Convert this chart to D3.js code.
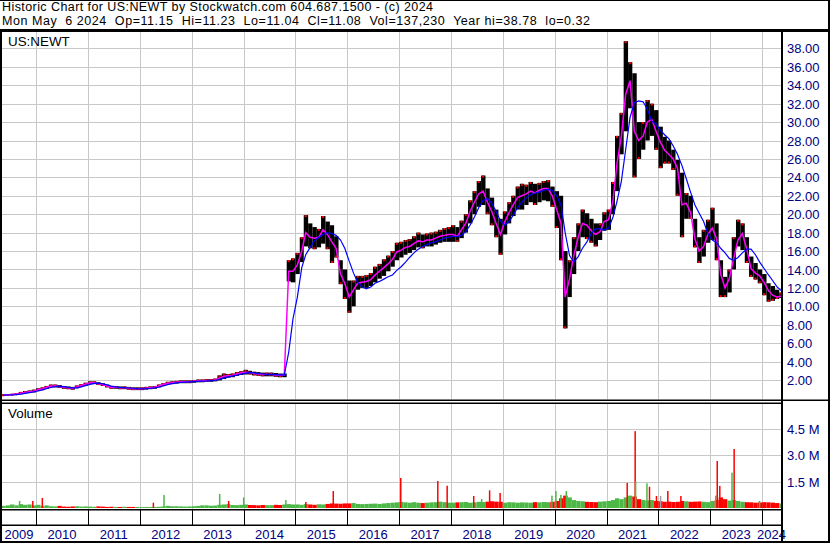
<!DOCTYPE html>
<html>
<head>
<meta charset="utf-8">
<script src="https://cdn.jsdelivr.net/npm/d3@7"></script>
<style>
body { margin: 0; background: #fff; }
svg { display: block; font-family: "Liberation Sans", Arial, sans-serif; }
text { white-space: pre; }
</style>
</head>
<body>
<script>
// monthly bars, first month is May 2009, last is May 2024
const hi = [
  0.45, 0.48, 0.5, 0.56, 0.7, 0.8, 0.86, 0.95,
  1.1, 1.2, 1.35, 1.5, 1.5, 1.45, 1.35, 1.3, 1.25, 1.4, 1.55, 1.7,
  1.85, 1.85, 1.75, 1.65, 1.5, 1.35, 1.35, 1.3, 1.3, 1.25, 1.2, 1.2,
  1.2, 1.25, 1.3, 1.35, 1.5, 1.65, 1.8, 1.85, 1.9, 1.95, 1.95, 1.95,
  2.0, 2.05, 2.05, 2.1, 2.1, 2.15, 2.5, 2.7, 2.65, 2.7, 2.85, 2.95,
  3.1, 3.0, 2.9, 2.85, 2.8, 2.8, 2.8, 2.75, 2.7, 2.7, 15, 15.2,
  15.8, 17.5, 19.9, 19, 18.6, 18.4, 19.8, 19.2, 18.8, 17.6, 15, 14,
  12.8, 12.8, 13.3, 13.3, 13.4, 13.6, 14.3, 14.6, 15.1, 15.5, 16, 16.9,
  17, 17.2, 17.3, 17.6, 18, 17.8, 17.9, 18, 18.1, 18.3, 18.5, 18.6,
  18.8, 18.6, 19.3, 20, 21.5, 22.5, 23.6, 24.2, 22.8, 21.8, 20.5, 19.5,
  20.3, 21.3, 22, 23, 23.3, 23.2, 23.5, 23.3, 23.4, 23.6, 23.7, 23,
  22.5, 22, 16, 15, 17.5, 19, 20.5, 20.1, 19.5, 19, 19, 20.2,
  20.5, 23.5, 28.5, 31, 38.78, 36.5, 35.3, 30, 30, 32.4, 32, 31.3,
  29.5, 28.4, 28, 27, 25.9, 24.5, 22.3, 22, 19.5, 17.5, 18.3, 19.4,
  20.7, 19, 15, 13.2, 14, 17.5, 19.4, 19, 17.5, 15.4, 14.7, 14,
  13.5, 12.5, 12.2, 11.8, 11.5
]
const lo = [
  0.32, 0.33, 0.35, 0.38, 0.45, 0.55, 0.6, 0.65,
  0.8, 0.9, 1.05, 1.2, 1.2, 1.15, 1.05, 1.0, 0.95, 1.1, 1.25, 1.4,
  1.55, 1.55, 1.45, 1.35, 1.2, 1.05, 1.05, 1.0, 1.0, 0.95, 0.9, 0.9,
  0.9, 0.95, 1.0, 1.05, 1.2, 1.35, 1.5, 1.55, 1.6, 1.65, 1.65, 1.65,
  1.7, 1.75, 1.75, 1.8, 1.8, 1.85, 1.95, 2.1, 2.25, 2.3, 2.45, 2.55,
  2.6, 2.6, 2.5, 2.45, 2.4, 2.4, 2.4, 2.35, 2.3, 2.3, 12.7, 12.6,
  13.5, 14.8, 16.5, 16.3, 16.2, 16.4, 16.8, 16.2, 14.7, 15.3, 12.4, 10.8,
  9.3, 10, 11.8, 12, 12, 12.2, 12.6, 13, 13.3, 13.8, 14.3, 15,
  15.3, 15.6, 15.8, 16.1, 16.4, 16.3, 16.5, 16.5, 16.7, 16.9, 17, 17,
  17, 17, 17.4, 18, 19, 20, 20.8, 21, 20, 18.8, 17.5, 15.6,
  17.8, 19, 19.8, 20.5, 20.5, 21, 21.3, 21, 21.3, 21.5, 21.4, 20.8,
  18.5, 15, 7.6, 11, 13.5, 16, 17.5, 17.3, 16.9, 16.5, 17.2, 18.2,
  18.3, 20, 22.5, 26.5, 29, 31.5, 24, 26, 27, 28, 28.5, 27,
  25, 25.5, 25.5, 24.8, 22, 17.5, 19.5, 19.5, 16.4, 14.7, 15.4, 16.9,
  17.2, 15, 11, 11, 11.5, 14, 16.5, 16.1, 14.7, 13.2, 12.9, 12.5,
  11.2, 10.5, 10.6, 10.8, 10.9
]
// magenta = short average, blue = long average
const fast = [
  0.38, 0.4, 0.42, 0.47, 0.55, 0.65, 0.72, 0.78,
  0.95, 1.05, 1.2, 1.35, 1.35, 1.3, 1.2, 1.15, 1.1, 1.25, 1.4, 1.55,
  1.7, 1.7, 1.6, 1.5, 1.35, 1.2, 1.2, 1.15, 1.15, 1.1, 1.05, 1.05,
  1.05, 1.1, 1.15, 1.2, 1.35, 1.5, 1.65, 1.7, 1.75, 1.8, 1.8, 1.8,
  1.85, 1.9, 1.9, 1.95, 1.95, 2.0, 2.2, 2.4, 2.45, 2.5, 2.65, 2.75,
  2.85, 2.8, 2.7, 2.65, 2.6, 2.6, 2.6, 2.55, 2.5, 2.5, 13.8, 13.8,
  14.5, 16, 18, 17.5, 17.4, 17.5, 18.3, 17.8, 17, 16.3, 13.5, 12.5,
  11, 11.8, 12.5, 12.6, 12.7, 12.9, 13.4, 13.8, 14.2, 14.6, 15.1, 15.9,
  16.1, 16.4, 16.5, 16.8, 17.1, 17, 17.2, 17.2, 17.4, 17.6, 17.7, 17.8,
  17.8, 17.6, 18.3, 19, 20.3, 21.3, 22.2, 22.5, 21.3, 20.3, 19, 17.8,
  19.2, 20.2, 21, 21.8, 22, 22.2, 22.5, 22.3, 22.6, 22.8, 22.8, 22,
  20.5, 19, 11, 13, 15.5, 17.5, 19, 18.8, 18.2, 17.8, 18.1, 19.2,
  19.4, 21.5, 25.5, 28.5, 33, 34.5, 29, 28, 28.5, 30, 30.3, 29,
  27.8, 26.9, 26.5, 26, 25, 21, 21.2, 20.2, 17.3, 16, 16.5, 17.8,
  18.5, 17.3, 13.5, 12, 13, 15.2, 17.2, 17.9, 16.2, 14.1, 13.6, 13.3,
  12.6, 11.7, 11.2, 11, 11.1
]
const slow = [
  0.36, 0.37, 0.39, 0.42, 0.47, 0.55, 0.63, 0.7,
  0.8, 0.92, 1.05, 1.18, 1.27, 1.3, 1.27, 1.2, 1.15, 1.15, 1.25, 1.38,
  1.52, 1.63, 1.65, 1.58, 1.47, 1.33, 1.25, 1.2, 1.17, 1.13, 1.1, 1.07,
  1.05, 1.07, 1.1, 1.15, 1.22, 1.35, 1.5, 1.6, 1.68, 1.73, 1.77, 1.8,
  1.82, 1.85, 1.88, 1.9, 1.93, 1.96, 2.05, 2.2, 2.33, 2.42, 2.52, 2.63,
  2.75, 2.8, 2.77, 2.7, 2.65, 2.6, 2.6, 2.58, 2.55, 2.52, 5.0, 8.6,
  11, 14.2, 15.6, 16.4, 17.1, 17.5, 17.8, 18, 17.9, 17.7, 17.2, 16.3,
  14.9, 13.6, 12.6, 12.1, 11.9, 12.1, 12.5, 12.7, 12.95, 13.2, 13.4, 13.9,
  14.3, 14.8, 15.3, 15.8, 16.2, 16.5, 16.7, 16.9, 17, 17.2, 17.4, 17.5,
  17.6, 17.6, 17.7, 18.1, 18.8, 19.7, 20.7, 21.5, 21.7, 21.2, 20.3, 19.3,
  18.8, 19.2, 19.9, 20.7, 21.3, 21.8, 22.1, 22.3, 22.4, 22.6, 22.7, 22.6,
  22, 21, 18, 15.5, 14.8, 15.4, 16.3, 17, 17.9, 18.4, 18.4, 18.3,
  18.5, 19.7, 21.4, 23.6, 27, 30.5, 32.1, 32.3, 32.2, 31.4, 30.1, 29.8,
  29.1, 28.6, 28.2, 27.4, 26.5, 25.3, 23.9, 22.4, 21, 20.1, 19.2, 17.9,
  17.2, 16.9, 16.3, 15.8, 15.2, 15, 15.3, 15.8, 16.2, 16.2, 15.6, 14.8,
  14.1, 13.4, 12.8, 12.1, 11.7
]
// typical daily volume per month, thousands of shares
const baseVol = [
  120, 150, 200, 150, 220, 180, 200, 150,
  180, 120, 150, 100, 90, 120, 80, 70, 90, 100, 80, 90,
  80, 70, 90, 80, 60, 70, 60, 60, 70, 60, 60, 60,
  50, 60, 60, 60, 70, 90, 120, 100, 100, 90, 80, 90,
  100, 120, 150, 150, 130, 140, 180, 200, 220, 170, 160, 180,
  200, 170, 160, 150, 170, 160, 160, 180, 170, 200, 220, 200,
  200, 180, 220, 200, 180, 210, 200, 230, 260, 250, 240, 260,
  260, 280, 230, 220, 230, 240, 250, 230, 260, 280, 300, 320,
  350, 320, 300, 330, 300, 280, 300, 320, 330, 360, 330, 300,
  300, 320, 330, 340, 300, 320, 350, 340, 360, 380, 360, 350,
  300, 330, 320, 300, 320, 310, 300, 330, 320, 340, 330, 350,
  400, 550, 700, 600, 450, 400, 380, 350, 340, 330, 360, 380,
  400, 450, 550, 500, 600, 700, 650, 500, 450, 420, 450, 400,
  380, 350, 360, 340, 350, 400, 380, 350, 360, 370, 350, 330,
  400, 450, 600, 500, 420, 450, 400, 350, 330, 320, 300, 310,
  330, 320, 300, 280, 250
]
// single heavy days
const spikeDates = ["2009-09-07", "2009-12-09", "2010-02-14", "2012-04-06", "2012-06-20",
  "2013-07-17", "2013-09-18", "2014-01-02", "2014-10-26", "2015-03-16", "2015-09-25",
  "2017-01-12", "2017-09-30", "2017-12-05", "2018-06-10", "2018-08-05", "2018-09-30",
  "2018-12-13", "2019-12-13", "2020-01-10", "2020-02-14", "2020-03-23", "2021-05-26",
  "2021-07-21", "2021-07-24", "2021-10-12", "2021-10-30", "2021-12-18", "2022-01-16",
  "2022-03-08", "2022-06-08", "2023-02-08", "2023-02-19", "2023-03-09", "2023-06-03",
  "2023-06-18", "2023-12-14", "2024-03-17"]
const spikeVols = [400, 400, 570, 300, 740, 800, 400, 600, 450, 340, 960,
  1700, 1530, 1260, 680, 510, 1000, 850, 700, 960, 740, 960, 1420,
  4350, 1500, 1400, 1200, 680, 680, 960, 680, 700, 2660, 1250, 2000,
  3340, 400, 300]
const spikeKind = ["up", "dn", "dn", "dn", "up", "up", "dn", "up", "up", "dn", "dn",
  "dn", "dn", "dn", "dn", "up", "dn", "dn", "up", "up", "up", "up", "dn",
  "dn", "up", "up", "dn", "dn", "flat", "dn", "dn", "up", "dn", "dn", "up",
  "dn", "up", "dn"]

const priceTicks = [2, 4, 6, 8, 10, 12, 14, 16, 18, 20, 22, 24, 26, 28, 30, 32, 34, 36, 38]
const volTicks = [1.5e6, 3.0e6, 4.5e6]
const years = d3.range(2009, 2025)

const headLine1 = "Historic Chart for US:NEWT by Stockwatch.com 604.687.1500 - (c) 2024"
const headLine2 = "Mon May  6 2024  Op=11.15  Hi=11.23  Lo=11.04  Cl=11.08  Vol=137,230  Year hi=38.78  lo=0.32"

const W = 830, H = 543
const plotL = 2, plotR = 781
const priceTop = 32, priceBot = 399.5
const volTop = 404, volBot = 509

const svg = d3.select("body").append("svg").attr("width", W).attr("height", H)

const x = d3.scaleTime()
  .domain([new Date(2009, 4, 6), new Date(2024, 4, 6)])
  .range([2, 780])
const y = d3.scaleLinear().domain([0, 38]).range([398.4, 48.4])
const yv = d3.scaleLinear().domain([0, 4.5e6]).range([508, 428.5])

const firstMonth = new Date(2009, 4, 1)
const rows = hi.map((h, i) => {
  let m = d3.timeMonth.offset(firstMonth, i)
  return {
    start: m, end: d3.timeMonth.offset(m, 1),
    mid: new Date(m.getFullYear(), m.getMonth(), 15),
    hi: h, lo: lo[i], fast: fast[i], slow: slow[i],
    vol: baseVol[i] * 1000,
    up: i == 0 || fast[i] >= fast[i - 1]
  }
})

const defs = svg.append("defs")
defs.append("clipPath").attr("id", "clipPrice").append("rect")
  .attr("x", plotL).attr("y", priceTop).attr("width", plotR - plotL).attr("height", priceBot - priceTop)
defs.append("clipPath").attr("id", "clipVol").append("rect")
  .attr("x", plotL).attr("y", volTop).attr("width", plotR - plotL).attr("height", volBot - volTop)

// header, two tight lines stretched to the original widths
svg.append("text").attr("x", 2).attr("y", 10.5).attr("font-size", 12.5)
  .attr("textLength", 431).attr("lengthAdjust", "spacing").text(headLine1)
svg.append("text").attr("x", 2).attr("y", 24.5).attr("font-size", 12.5)
  .attr("textLength", 588).attr("lengthAdjust", "spacing").text(headLine2)

// grid
const grid = svg.append("g").attr("stroke", "#c8c8c8").attr("stroke-width", 1)
grid.selectAll(".hp").data(priceTicks).enter().append("line")
  .attr("x1", plotL).attr("x2", plotR)
  .attr("y1", d => Math.round(y(d)) + 0.5).attr("y2", d => Math.round(y(d)) + 0.5)
grid.selectAll(".hv").data(volTicks).enter().append("line")
  .attr("x1", plotL).attr("x2", plotR)
  .attr("y1", d => Math.round(yv(d)) + 0.5).attr("y2", d => Math.round(yv(d)) + 0.5)
const yearEdges = years.slice(1).map(yr => new Date(yr, 0, 1))
grid.selectAll(".vp").data(yearEdges).enter().append("line")
  .attr("x1", d => Math.round(x(d)) + 0.5).attr("x2", d => Math.round(x(d)) + 0.5)
  .attr("y1", priceTop).attr("y2", priceBot)
grid.selectAll(".vv").data(yearEdges).enter().append("line")
  .attr("x1", d => Math.round(x(d)) + 0.5).attr("x2", d => Math.round(x(d)) + 0.5)
  .attr("y1", volTop).attr("y2", volBot)

// price bars
const price = svg.append("g").attr("clip-path", "url(#clipPrice)")
price.selectAll("rect.bar").data(rows).enter().append("rect")
  .attr("class", "bar")
  .attr("x", d => x(d.start))
  .attr("width", d => x(d.end) - x(d.start))
  .attr("y", d => y(d.hi))
  .attr("height", d => Math.max(1.5, y(d.lo) - y(d.hi)))
  .attr("fill", "#000")
price.selectAll("rect.tick").data(rows).enter().append("rect")
  .attr("class", "tick")
  .attr("x", d => x(d.mid) - 1)
  .attr("width", 2)
  .attr("y", d => (d.up ? y(d.hi) : y(d.lo) - 2))
  .attr("height", 2)
  .attr("fill", "#ff0000")

const fastLine = d3.line().x(d => x(d.mid)).y(d => y(d.fast))
const slowLine = d3.line().x(d => x(d.mid)).y(d => y(d.slow))
price.append("path").datum(rows).attr("d", fastLine)
  .attr("fill", "none").attr("stroke", "#ff00ff").attr("stroke-width", 1.5)
price.append("path").datum(rows).attr("d", slowLine)
  .attr("fill", "none").attr("stroke", "#0000ff").attr("stroke-width", 1.2)

svg.append("text").attr("x", 8).attr("y", 46).attr("font-size", 13.4).text("US:NEWT")

// volume
const vol = svg.append("g").attr("clip-path", "url(#clipVol)")
vol.selectAll("rect.base").data(rows).enter().append("rect")
  .attr("class", "base")
  .attr("x", d => x(d.start))
  .attr("width", d => x(d.end) - x(d.start))
  .attr("y", d => yv(d.vol))
  .attr("height", d => yv(0) - yv(d.vol))
  .attr("fill", d => d.up ? "#4db848" : "#ff0000")
const spikes = spikeDates.map((s, i) => ({ date: d3.timeParse("%Y-%m-%d")(s), v: spikeVols[i] * 1000, k: spikeKind[i] }))
const kindColor = { up: "#4db848", dn: "#ff0000", flat: "#a0a0a0" }
vol.selectAll("rect.spike").data(spikes).enter().append("rect")
  .attr("class", "spike")
  .attr("x", d => x(d.date) - 0.75)
  .attr("width", 1.5)
  .attr("y", d => yv(d.v))
  .attr("height", d => yv(0) - yv(d.v))
  .attr("fill", d => kindColor[d.k])

svg.append("text").attr("x", 8).attr("y", 418).attr("font-size", 13.4).text("Volume")

// right hand axes
const priceAxis = d3.axisRight(y).tickValues(priceTicks).tickFormat(d3.format(".2f")).tickSize(0).tickPadding(0)
svg.append("g").attr("transform", "translate(787,0)").call(priceAxis)
  .call(g => g.select(".domain").remove())
  .selectAll("text").attr("font-size", 13).attr("font-family", "Liberation Sans, Arial, sans-serif")
  .attr("fill", "#000080").attr("dy", "0.35em")
const volAxis = d3.axisRight(yv).tickValues(volTicks).tickFormat(d => (d / 1e6).toFixed(1) + " M").tickSize(0).tickPadding(0)
svg.append("g").attr("transform", "translate(787,0)").call(volAxis)
  .call(g => g.select(".domain").remove())
  .selectAll("text").attr("font-size", 13).attr("font-family", "Liberation Sans, Arial, sans-serif")
  .attr("fill", "#000080").attr("dy", "0.35em")

// year band
const band = svg.append("g").attr("stroke", "#000")
band.selectAll("line").data(yearEdges).enter().append("line")
  .attr("x1", d => Math.round(x(d)) + 0.5).attr("x2", d => Math.round(x(d)) + 0.5)
  .attr("y1", 510).attr("y2", 525).attr("stroke-width", 1)
svg.selectAll("text.year").data(years).enter().append("text")
  .attr("class", "year")
  .attr("x", yr => {
    let a = Math.max(plotL, x(new Date(yr, 0, 1)))
    let b = Math.min(plotR, x(new Date(yr + 1, 0, 1)))
    return (a + b) / 2
  })
  .attr("y", 539)
  .attr("text-anchor", "middle")
  .attr("font-size", 13)
  .attr("fill", "#000080")
  .text(yr => yr)

// frame
const frame = svg.append("g").attr("fill", "#000")
frame.append("rect").attr("x", 0).attr("y", 0).attr("width", W).attr("height", 1)
frame.append("rect").attr("x", 0).attr("y", 29).attr("width", W).attr("height", 3)
frame.append("rect").attr("x", 0).attr("y", 29).attr("width", 2).attr("height", H - 29)
frame.append("rect").attr("x", 781).attr("y", 29).attr("width", 2).attr("height", H - 29)
frame.append("rect").attr("x", 828).attr("y", 0).attr("width", 2).attr("height", H)
frame.append("rect").attr("x", 0).attr("y", 399.5).attr("width", W).attr("height", 1.5)
frame.append("rect").attr("x", 0).attr("y", 402.5).attr("width", 781).attr("height", 1.5)
frame.append("rect").attr("x", 0).attr("y", 509).attr("width", 781).attr("height", 1.5)
frame.append("rect").attr("x", 0).attr("y", 524.5).attr("width", 781).attr("height", 1.5)
frame.append("rect").attr("x", 0).attr("y", 541).attr("width", W).attr("height", 2)
</script>
</body>
</html>
